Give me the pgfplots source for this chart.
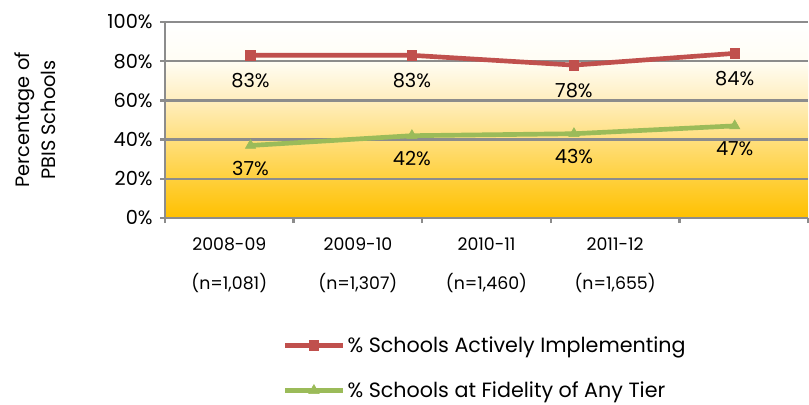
\documentclass[border=0pt]{standalone}
\usepackage{pgfplots}
\pgfplotsset{compat=1.18}
\usepackage{fontspec}
\setmainfont{Poppins}
\definecolor{redS}{RGB}{192,80,77}
\definecolor{greenS}{RGB}{155,187,89}
\definecolor{gridg}{RGB}{140,140,140}
\definecolor{bgA}{RGB}{255,192,0}
\definecolor{bgB}{RGB}{255,208,60}
\definecolor{bgC}{RGB}{255,223,125}
\definecolor{bgD}{RGB}{255,238,190}
\definecolor{bgE}{RGB}{255,253,244}
\pgfdeclareverticalshading{bgshade}{100bp}{color(0bp)=(bgA); color(25bp)=(bgA); color(35bp)=(bgB); color(45bp)=(bgC); color(55bp)=(bgD); color(65bp)=(bgE); color(75bp)=(white); color(100bp)=(white)}
\begin{document}
\begin{tikzpicture}
\useasboundingbox (0,0) rectangle (606.75pt,303pt);
\begin{axis}[
  at={(123.75pt,139.5pt)}, anchor=south west,
  scale only axis, width=482.25pt, height=147pt,
  xmin=0, xmax=5, ymin=0, ymax=100,
  axis background/.style={shading=bgshade},
  axis x line*=bottom, axis y line*=left,
  axis line style={gridg, line width=1.8pt, -},
  ytick={0,20,40,60,80,100},
  yticklabel={\pgfmathprintnumber{\tick}\%},
  /pgf/number format/assume math mode=true,
  ymajorgrids, grid style={gridg, line width=1.8pt},
  xtick={0.5,1.5,2.5,3.5},
  xticklabels={{2008-09\\[14.5pt](n=1,081)},{2009-10\\[14.5pt](n=1,307)},{2010-11\\[14.5pt](n=1,460)},{2011-12\\[14.5pt](n=1,655)}},
  minor xtick={0,1,2,3,4,5},
  major tick length=3.75pt, minor tick length=3.75pt,
  tick align=outside,
  x tick style={draw=none},
  minor x tick style={draw=gridg, line width=1.8pt},
  y tick style={draw=gridg, line width=1.8pt},
  xticklabel style={font=\fontsize{13}{15}\selectfont, align=center, yshift=-7.5pt},
  yticklabel style={font=\fontsize{14.5}{17}\selectfont, xshift=-2pt},
  ylabel={Percentage of\\[2.5pt]PBIS Schools},
  ylabel style={font=\fontsize{14.5}{17}\selectfont, align=center, at={(axis description cs:-0.202,0.5)}, anchor=center},
  legend style={at={(rel axis cs:0.183,-0.59)}, anchor=north west, draw=none, fill=none,
    font=\fontsize{15.5}{18}\selectfont, row sep=16.5pt, inner sep=0pt},
  legend cell align=left,
  legend image code/.code={\draw[mark repeat=2,mark phase=2,#1] plot coordinates {(0pt,0pt) (21.5pt,0pt) (43pt,0pt)};},
  clip=false,
]
\addplot[redS, line width=3.5pt, mark=square*, mark size=3.6pt, mark options={line width=0.4pt},
  point meta=y, nodes near coords={\pgfmathprintnumber{\pgfplotspointmeta}\%},
  every node near coord/.append style={black, anchor=center, yshift=-19pt, font=\fontsize{14.5}{17}\selectfont}]
  coordinates {(0.665,83) (1.92,83) (3.18,78) (4.43,84)};
\addlegendentry{\% Schools Actively Implementing}
\addplot[greenS, line width=3.5pt, mark=triangle*, mark size=4.5pt, mark options={line width=0.4pt},
  point meta=y, nodes near coords={\pgfmathprintnumber{\pgfplotspointmeta}\%},
  every node near coord/.append style={black, anchor=center, yshift=-17pt, font=\fontsize{14.5}{17}\selectfont}]
  coordinates {(0.665,37) (1.92,42) (3.18,43) (4.43,47)};
\addlegendentry{\% Schools at Fidelity of Any Tier}
\end{axis}
\end{tikzpicture}
\end{document}
